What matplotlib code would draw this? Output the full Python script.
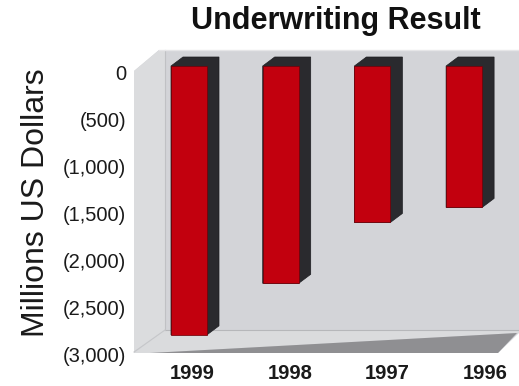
import matplotlib
matplotlib.use('Agg')
import matplotlib.pyplot as plt
from matplotlib.patches import Polygon
import numpy as np

plt.rcParams['font.family'] = ['Liberation Sans', 'DejaVu Sans']

# ---- data ----
years = ['1999', '1998', '1997', '1996']
results = [-2870, -2320, -1670, -1510]
ytick_values = [0, -500, -1000, -1500, -2000, -2500, -3000]
ytick_labels = ['0', '(500)', '(1,000)', '(1,500)', '(2,000)', '(2,500)', '(3,000)']
title = 'Underwriting Result'
ylabel = 'Millions US Dollars'

# ---- layout ----
W, H = 519, 386
DPI = 100
fig = plt.figure(figsize=(W / DPI, H / DPI), dpi=DPI)
fig.patch.set_facecolor('white')

# decorative 3D box (pixel coordinates)
bg = fig.add_axes([0, 0, 1, 1])
bg.set_xlim(0, W)
bg.set_ylim(H, 0)
bg.axis('off')
wall = '#d3d4d8'
bg.add_patch(Polygon([(134, 71), (159, 50), (519, 50), (519, 333), (498, 353), (134, 353)],
                     closed=True, fc=wall, ec='none'))
bg.add_patch(Polygon([(134, 71), (159, 50), (165, 50), (165, 330), (134, 352)],
                     closed=True, fc='#dbdcde', ec='none'))
bg.add_patch(Polygon([(165, 330), (519, 330), (519, 333), (517, 333), (150, 353), (134, 353)],
                     closed=True, fc='#dadbdd', ec='none'))
bg.add_patch(Polygon([(150, 353), (498, 353), (517, 333)], closed=True, fc='#8f8f92', ec='none'))
bg.plot([165, 519], [330, 330], color='#b6b7ba', lw=0.8)
bg.plot([165, 165], [50, 330], color='#c0c1c4', lw=0.8)
bg.plot([165, 134], [330, 352], color='#c6c7ca', lw=0.8)
bg.plot([159, 519], [50, 50], color='#e6e6e8', lw=1.0)

# main axes: front plane of the bars
x0_px, unit_x = 189, 91.7       # pixel of first category, pixels per category
y0_px, unit_y = 66, 0.09367     # pixel of zero, pixels per unit
left_px, right_px, top_px, bottom_px = 133, 519, 50, 353
ax = fig.add_axes([left_px / W, 1 - bottom_px / H,
                   (right_px - left_px) / W, (bottom_px - top_px) / H])
ax.set_xlim((left_px - x0_px) / unit_x, (right_px - x0_px) / unit_x)
ax.set_ylim(-(bottom_px - y0_px) / unit_y, (y0_px - top_px) / unit_y)
ax.patch.set_alpha(0)
for s in ax.spines.values():
    s.set_visible(False)

x = np.arange(len(years))
bw = 36 / unit_x
ddx = 12 / unit_x
ddy = 9 / unit_y
for xi, v in zip(x, results):
    L, R = xi - bw / 2, xi + bw / 2
    ax.add_patch(Polygon([(L, v), (L, 0), (L + ddx, ddy), (R + ddx, ddy),
                          (R + ddx, v + ddy), (R, v)], closed=True,
                         fc='#2a2a2e', ec='#1e1e22', lw=0.5, zorder=2))
ax.bar(x, results, width=bw, color='#c2000e', edgecolor='#6e0008',
       linewidth=0.5, zorder=3)

ax.set_yticks([])
ax.set_xticks(x * 1.066 + 0.033, years)
ax.tick_params(axis='x', length=0, pad=8, labelsize=14.5, labelcolor='#1a1a1a')
for lab in ax.get_xticklabels():
    lab.set_fontweight('bold')

# value labels (back-plane scale, shifted slightly below the front plane)
axt = fig.add_axes([left_px / W, 1 - (bottom_px + 7) / H,
                    (right_px - left_px) / W, (bottom_px - top_px) / H])
axt.set_ylim(ax.get_ylim())
axt.set_xlim(0, 1)
axt.patch.set_alpha(0)
for s in axt.spines.values():
    s.set_visible(False)
axt.set_xticks([])
axt.set_yticks(ytick_values, ytick_labels)
axt.tick_params(axis='y', length=0, pad=5, labelsize=14.5, labelcolor='#1a1a1a')

fig.text(336 / W, 1 - 21 / H, title, ha='center', va='center',
         fontsize=22, fontweight='bold', color='#111111')
fig.text(36 / W, 1 - 203 / H, ylabel, rotation=90, ha='center', va='center',
         fontsize=23, color='#1a1a1a')

fig.savefig('out.png', dpi=DPI)
